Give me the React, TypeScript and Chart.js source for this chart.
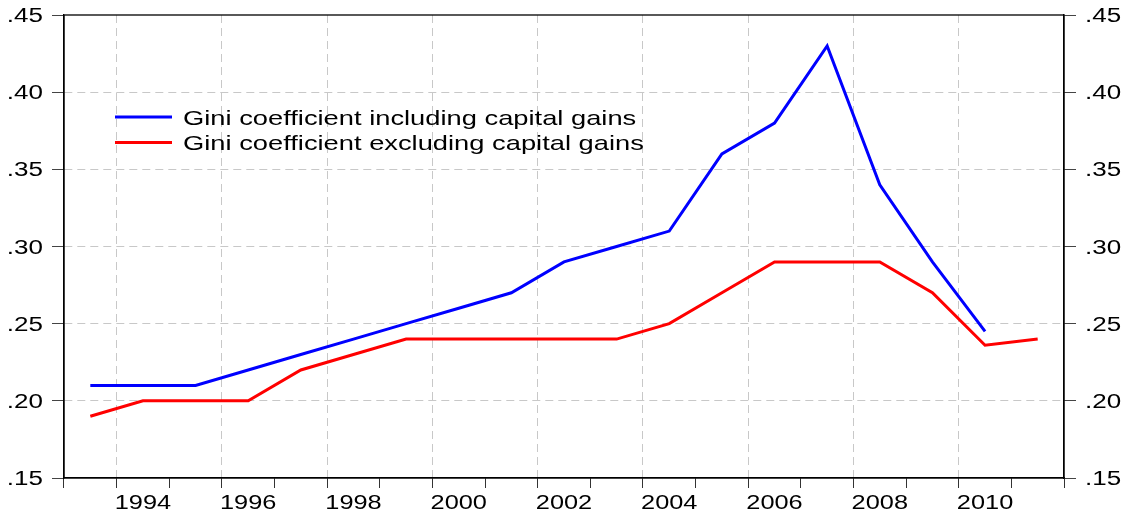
import React, { useEffect, useRef } from "react";
import { Chart, registerables } from "chart.js";

Chart.register(...registerables);

const years = [1993, 1994, 1995, 1996, 1997, 1998, 1999, 2000, 2001, 2002, 2003, 2004, 2005, 2006, 2007, 2008, 2009, 2010, 2011];
const giniIncluding = [0.21, 0.21, 0.21, 0.22, 0.23, 0.24, 0.25, 0.26, 0.27, 0.29, 0.30, 0.31, 0.36, 0.38, 0.43, 0.34, 0.29, 0.245, null];
const giniExcluding = [0.19, 0.20, 0.20, 0.20, 0.22, 0.23, 0.24, 0.24, 0.24, 0.24, 0.24, 0.25, 0.27, 0.29, 0.29, 0.29, 0.27, 0.236, 0.24];
const seriesLabels = ["Gini coefficient including capital gains", "Gini coefficient excluding capital gains"];
const yMin = 0.15;
const yMax = 0.45;
const yStep = 0.05;

const GRID = "#c8c8c8";
const CLEAR = "rgba(0,0,0,0)";
const FONT = '"Liberation Sans", Arial, sans-serif';
const SX = 1.3;

const fmtY = (v: number) => v.toFixed(2).replace(/^0/, "");

function stretchText(ctx: CanvasRenderingContext2D, text: string, x: number, y: number, align: CanvasTextAlign, size: number, sx: number) {
  ctx.save();
  ctx.translate(x, y);
  ctx.scale(sx, 1);
  ctx.font = `${size}px ${FONT}`;
  ctx.textAlign = align;
  ctx.textBaseline = "alphabetic";
  ctx.fillStyle = "#000";
  ctx.fillText(text, 0, 0);
  ctx.restore();
}

const textPlugin = {
  id: "textPlugin",
  afterDraw(chart: any) {
    const { ctx, chartArea, scales } = chart;
    ctx.save();
    ctx.strokeStyle = "#000";
    ctx.lineWidth = 1.3;
    ctx.strokeRect(chartArea.left, chartArea.top, chartArea.right - chartArea.left, chartArea.bottom - chartArea.top);
    ctx.restore();

    const ySize = 20;
    const yCap = 0.716 * ySize;
    for (const t of scales.y.ticks) {
      const py = scales.y.getPixelForValue(t.value);
      const label = fmtY(t.value);
      stretchText(ctx, label, chartArea.left - 21, py + yCap / 2, "right", ySize, SX);
      stretchText(ctx, label, chartArea.right + 21, py + yCap / 2, "left", ySize, SX);
    }
    const xSize = 19.5;
    years.forEach((yr, i) => {
      if (yr % 2 !== 0) return;
      const px = scales.x.getPixelForValue(i);
      stretchText(ctx, String(yr), px, chartArea.bottom + 30.5, "center", xSize, SX);
    });

    const lx0 = chartArea.left + 51;
    const lx1 = chartArea.left + 108;
    const ly0 = chartArea.top + 102;
    const lgap = 25.5;
    const lSize = 21;
    chart.data.datasets.forEach((ds: any, i: number) => {
      const ly = ly0 + i * lgap;
      ctx.save();
      ctx.strokeStyle = ds.borderColor;
      ctx.lineWidth = 3;
      ctx.beginPath();
      ctx.moveTo(lx0, ly);
      ctx.lineTo(lx1, ly);
      ctx.stroke();
      ctx.restore();
      stretchText(ctx, ds.label, lx1 + 11, ly + (0.716 * lSize) / 2, "left", lSize, SX);
    });
  },
};

export default function App() {
  const ref = useRef<HTMLCanvasElement | null>(null);
  useEffect(() => {
    if (!ref.current) return;
    const chart = new Chart(ref.current, {
      type: "line",
      data: {
        labels: years.map(String),
        datasets: [
          {
            label: seriesLabels[0],
            data: giniIncluding,
            borderColor: "#0000ff",
            borderWidth: 3,
            pointRadius: 0,
            tension: 0,
            spanGaps: false,
          },
          {
            label: seriesLabels[1],
            data: giniExcluding,
            borderColor: "#ff0000",
            borderWidth: 3,
            pointRadius: 0,
            tension: 0,
          },
        ],
      },
      options: {
        animation: false,
        responsive: false,
        maintainAspectRatio: false,
        layout: { padding: { top: 15, left: 0, right: 0, bottom: 0 } },
        plugins: { legend: { display: false }, tooltip: { enabled: false } },
        scales: {
          x: {
            type: "category",
            offset: true,
            grid: {
              offset: true,
              drawTicks: true,
              tickLength: 10,
              tickWidth: 1,
              tickColor: "#333",
              lineWidth: 1,
              color: (c: any) => {
                const i = c.index;
                if (typeof i !== "number" || i <= 0 || i >= years.length) return CLEAR;
                return years[i] % 2 === 0 ? GRID : CLEAR;
              },
            },
            border: { display: true, color: "#000", width: 1.3, dash: [8, 5] },
            ticks: { display: false, autoSkip: false },
            afterFit: (s: any) => {
              s.height = 34;
            },
          },
          y: {
            type: "linear",
            position: "left",
            min: yMin,
            max: yMax,
            ticks: { display: false, stepSize: yStep },
            grid: {
              drawTicks: true,
              tickLength: 12,
              tickWidth: 1,
              tickColor: "#444",
              lineWidth: 1,
              color: (c: any) => {
                const v = c.tick ? c.tick.value : null;
                return v !== null && v > yMin + 0.01 && v < yMax - 0.01 ? GRID : CLEAR;
              },
            },
            border: { display: true, color: "#000", width: 1.3, dash: [8, 5] },
            afterFit: (s: any) => {
              s.width = 64;
            },
          },
          y2: {
            type: "linear",
            position: "right",
            min: yMin,
            max: yMax,
            ticks: { display: false, stepSize: yStep },
            grid: {
              drawOnChartArea: false,
              drawTicks: true,
              tickLength: 12,
              tickWidth: 1,
              tickColor: "#444",
            },
            border: { display: true, color: "#000", width: 1.3 },
            afterFit: (s: any) => {
              s.width = 61;
            },
          },
        },
      },
      plugins: [textPlugin],
    });
    return () => chart.destroy();
  }, []);

  return (
    <div style={{ position: "fixed", left: 0, top: 0, width: 1125, height: 512, background: "#fff" }}>
      <canvas ref={ref} width={1125} height={512} style={{ width: 1125, height: 512, display: "block" }} />
    </div>
  );
}
